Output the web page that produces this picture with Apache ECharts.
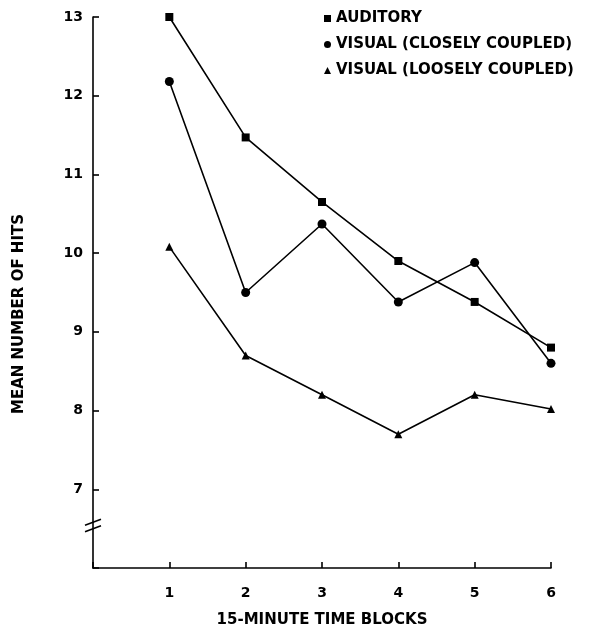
<!DOCTYPE html>
<html><head><meta charset="utf-8">
<script src="https://cdn.jsdelivr.net/npm/echarts@6/dist/echarts.min.js"></script>
<style>html,body{margin:0;padding:0;background:#fff}#c{width:614px;height:636px}</style>
</head><body><div id="c"></div>
<script>
const blocks = [1, 2, 3, 4, 5, 6];
const auditory = [13.0, 11.47, 10.65, 9.9, 9.38, 8.8];
const visualClose = [12.18, 9.5, 10.37, 9.38, 9.88, 8.6];
const visualLoose = [10.08, 8.7, 8.2, 7.7, 8.2, 8.02];
const seriesNames = ['AUDITORY', 'VISUAL (CLOSELY COUPLED)', 'VISUAL (LOOSELY COUPLED)'];
const yTicks = [7, 8, 9, 10, 11, 12, 13];
const yTitle = 'MEAN NUMBER OF HITS';
const xTitle = '15-MINUTE TIME BLOCKS';

const font = '"DejaVu Sans", sans-serif';
const chart = echarts.init(document.getElementById('c'), null, {renderer: 'canvas'});
function mk(name, vals, sym, size) {
  return {
    name: name, type: 'line', data: blocks.map((b, i) => [b, vals[i]]),
    symbol: sym, symbolSize: size, showSymbol: true,
    lineStyle: {color: '#000', width: 1.6},
    itemStyle: {color: '#000', borderWidth: 0},
    emphasis: {disabled: true}, animation: false
  };
}
chart.setOption({
  animation: false,
  grid: {left: 93, right: 63, top: 17, bottom: 68, containLabel: false},
  legend: {
    orient: 'vertical', left: 319, top: 6, itemGap: 11,
    itemWidth: 7, itemHeight: 7,
    textStyle: {fontFamily: font, fontWeight: 'bold', fontSize: 15, color: '#000'},
    data: [
      {name: seriesNames[0], icon: 'rect'},
      {name: seriesNames[1], icon: 'circle'},
      {name: seriesNames[2], icon: 'triangle'}
    ],
    selectedMode: false
  },
  xAxis: {
    type: 'value', min: 0, max: 6, interval: 1,
    name: xTitle, nameLocation: 'middle', nameGap: 45,
    nameTextStyle: {fontFamily: font, fontWeight: 'bold', fontSize: 15, color: '#000'},
    axisLine: {lineStyle: {color: '#000', width: 1.6}},
    axisTick: {inside: true, length: 6, lineStyle: {color: '#000', width: 1.6}},
    axisLabel: {margin: 18, fontFamily: font, fontWeight: 'bold', fontSize: 14, color: '#000',
      formatter: v => blocks.includes(v) ? String(v) : ''},
    splitLine: {show: false}
  },
  yAxis: {
    type: 'value', min: 6, max: 13, interval: 1,
    axisLine: {lineStyle: {color: '#000', width: 1.6}},
    axisTick: {inside: true, length: 6, lineStyle: {color: '#000', width: 1.6}},
    axisLabel: {margin: 10, fontFamily: font, fontWeight: 'bold', fontSize: 14, color: '#000',
      formatter: v => yTicks.includes(v) ? String(v) : ''},
    splitLine: {show: false}
  },
  series: [
    mk(seriesNames[0], auditory, 'rect', 8),
    mk(seriesNames[1], visualClose, 'circle', 9),
    mk(seriesNames[2], visualLoose, 'triangle', 8)
  ]
});
// y title and axis break mark
const p1 = chart.convertToPixel({gridIndex: 0}, [0, 6.58]);
const p2 = chart.convertToPixel({gridIndex: 0}, [0, 6.5]);
chart.setOption({
  graphic: [
    {type: 'text', x: 19, y: 314, rotation: Math.PI / 2,
      style: {text: yTitle, fontFamily: font, fontWeight: 'bold', fontSize: 15, fill: '#000',
        align: 'center', verticalAlign: 'middle'}},
    {type: 'line', shape: {x1: p1[0] - 8, y1: p1[1] + 3, x2: p1[0] + 8, y2: p1[1] - 3}, style: {stroke: '#000', lineWidth: 1.6}},
    {type: 'line', shape: {x1: p2[0] - 8, y1: p2[1] + 3, x2: p2[0] + 8, y2: p2[1] - 3}, style: {stroke: '#000', lineWidth: 1.6}}
  ]
});
</script></body></html>
